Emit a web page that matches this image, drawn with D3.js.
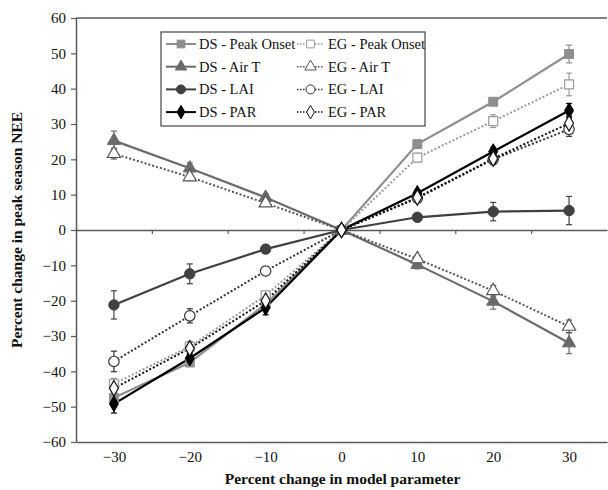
<!DOCTYPE html>
<html>
<head>
<meta charset="utf-8">
<script src="https://cdn.jsdelivr.net/npm/d3@7"></script>
<style>
    body { margin: 0; background: #fff; }
    svg text { font-family: "Liberation Serif", "Times New Roman", serif; }
</style>
</head>
<body>
<svg id="chart"></svg>
<script>
const categories = [-30, -20, -10, 0, 10, 20, 30];
const yTicks = [-60, -50, -40, -30, -20, -10, 0, 10, 20, 30, 40, 50, 60];

const dsPeakOnset = [-47.5, -37.5, -21, 0, 24.3, 36.3, 49.8];
const egPeakOnset = [-43.5, -33, -18.5, 0, 20.5, 30.8, 41.2];
const dsAirT = [25.3, 17.5, 9.2, 0, -9.8, -20.2, -32];
const egAirT = [21.6, 15, 7.6, 0, -8.2, -17.2, -27.3];
const dsLAI = [-21.2, -12.4, -5.4, 0, 3.6, 5.2, 5.5];
const egLAI = [-37.2, -24.3, -11.6, 0, 9, 20, 28.5];
const dsPAR = [-49.2, -36.3, -22, 0, 10.4, 22.2, 33.8];
const egPAR = [-44.8, -33.5, -20, 0, 9.2, 20.2, 30.2];

// error bar half widths
const dsPeakOnsetErr = [1.5, 1, 1, 0, 1, 1, 2.5];
const egPeakOnsetErr = [1.5, 1.5, 1, 0, 1.2, 1.8, 3.2];
const dsAirTErr = [2.7, 1.5, 1, 0, 1.2, 2.2, 3];
const egAirTErr = [1.5, 1, 0.8, 0, 1, 1.5, 1.8];
const dsLAIErr = [4, 2.8, 1.2, 0, 0.8, 2.6, 4];
const egLAIErr = [2.9, 2, 1.2, 0, 1, 1.5, 2];
const dsPARErr = [2.6, 1.5, 2, 0, 1, 1.2, 2];
const egPARErr = [1.5, 1.5, 1, 0, 1, 1, 2];

const series = [
    { name: "DS - Peak Onset", values: dsPeakOnset, err: dsPeakOnsetErr, color: "#8e8e8e", dotted: false, shape: "square", open: false },
    { name: "EG - Peak Onset", values: egPeakOnset, err: egPeakOnsetErr, color: "#9a9a9a", dotted: true, shape: "square", open: true },
    { name: "DS - Air T", values: dsAirT, err: dsAirTErr, color: "#6a6a6a", dotted: false, shape: "triangle", open: false },
    { name: "EG - Air T", values: egAirT, err: egAirTErr, color: "#555555", dotted: true, shape: "triangle", open: true },
    { name: "DS - LAI", values: dsLAI, err: dsLAIErr, color: "#404040", dotted: false, shape: "circle", open: false },
    { name: "EG - LAI", values: egLAI, err: egLAIErr, color: "#333333", dotted: true, shape: "circle", open: true },
    { name: "DS - PAR", values: dsPAR, err: dsPARErr, color: "#000000", dotted: false, shape: "diamond", open: false },
    { name: "EG - PAR", values: egPAR, err: egPARErr, color: "#111111", dotted: true, shape: "diamond", open: true }
];

const width = 608, height = 490;
const plot = { left: 76, right: 607, top: 18, bottom: 442 };
const axisColor = "#5a5a5a";
const serif = "Liberation Serif";

const svg = d3.select("#chart").attr("width", width).attr("height", height);

// category axis: each category gets a band, points sit in the middle
const x = d3.scaleLinear().domain([-35, 35]).range([plot.left, plot.right]);
const y = d3.scaleLinear().domain([-60, 60]).range([plot.bottom, plot.top]);

const shapes = {
    square: d3.symbolSquare,
    triangle: d3.symbolTriangle,
    circle: d3.symbolCircle,
    diamond: d3.symbolDiamond
};
const sizes = { square: 80, triangle: 75, circle: 85, diamond: 70 };
function symbolPath(s) {
    return d3.symbol().type(shapes[s.shape]).size(sizes[s.shape])();
}
const fmt = d => d < 0 ? "\u2212" + Math.abs(d) : d;

// frame: top line
svg.append("line")
    .attr("x1", plot.left).attr("x2", plot.right)
    .attr("y1", plot.top).attr("y2", plot.top)
    .attr("stroke", axisColor).attr("stroke-width", 1.5);

// y axis
const yAxis = svg.append("g")
    .attr("transform", `translate(${plot.left},0)`)
    .call(d3.axisLeft(y).tickValues(yTicks).tickSize(5).tickSizeOuter(0).tickPadding(5).tickFormat(fmt))
    .style("font-family", serif);
yAxis.select(".domain").attr("stroke", axisColor).attr("stroke-width", 1.5);
yAxis.selectAll(".tick line").attr("stroke", axisColor).attr("stroke-width", 1.2);
yAxis.selectAll("text").style("font-family", serif).attr("font-size", 15).attr("fill", "#111");

// bottom axis line carrying the category labels
const xLabels = svg.append("g")
    .attr("transform", `translate(0,${plot.bottom})`)
    .call(d3.axisBottom(x).tickValues(categories).tickSize(0).tickSizeOuter(0).tickPadding(9).tickFormat(fmt))
    .style("font-family", serif);
xLabels.select(".domain").attr("stroke", axisColor).attr("stroke-width", 1.5);
xLabels.selectAll("text").style("font-family", serif).attr("font-size", 15).attr("fill", "#111");

// category axis crossing at zero, ticks between categories
const xZero = svg.append("g")
    .attr("transform", `translate(0,${y(0)})`)
    .call(d3.axisBottom(x).tickValues([-25, -15, -5, 5, 15, 25]).tickSize(4).tickSizeOuter(0)
        .tickFormat(""));
xZero.select(".domain").attr("stroke", axisColor).attr("stroke-width", 1.5);
xZero.selectAll(".tick line").attr("stroke", axisColor).attr("stroke-width", 1.2);

// axis titles
svg.append("text")
    .attr("x", (plot.left + plot.right) / 2 + 1)
    .attr("y", 484)
    .attr("text-anchor", "middle")
    .attr("font-size", 15.5)
    .attr("font-weight", "bold")
    .attr("fill", "#111")
    .text("Percent change in model parameter");

svg.append("text")
    .attr("transform", `translate(22,${y(0)}) rotate(-90)`)
    .attr("text-anchor", "middle")
    .attr("font-size", 15.5)
    .attr("font-weight", "bold")
    .attr("fill", "#111")
    .text("Percent change in peak season NEE");

const line = d3.line()
    .x((d, i) => x(categories[i]))
    .y(d => y(d));

const container = svg.append("g");

// lines
series.forEach(s => {
    container.append("path")
        .datum(s.values)
        .attr("d", line)
        .attr("fill", "none")
        .attr("stroke", s.color)
        .attr("stroke-width", s.dotted ? 2 : 2.2)
        .attr("stroke-dasharray", s.dotted ? "2,2" : null);
});

// error bars
series.forEach(s => {
    const g = container.append("g");
    const pts = s.values.map((v, i) => ({ cx: categories[i], v, e: s.err[i] })).filter(d => d.e > 0);
    g.selectAll("line.bar")
        .data(pts)
        .enter()
        .append("line")
        .attr("class", "bar")
        .attr("x1", d => x(d.cx)).attr("x2", d => x(d.cx))
        .attr("y1", d => y(d.v - d.e)).attr("y2", d => y(d.v + d.e))
        .attr("stroke", s.color).attr("stroke-width", 1.2);
    [-1, 1].forEach(sign => {
        g.selectAll("line.cap" + sign)
            .data(pts)
            .enter()
            .append("line")
            .attr("x1", d => x(d.cx) - 3).attr("x2", d => x(d.cx) + 3)
            .attr("y1", d => y(d.v + sign * d.e)).attr("y2", d => y(d.v + sign * d.e))
            .attr("stroke", s.color).attr("stroke-width", 1.2);
    });
});

// markers
series.forEach(s => {
    container.append("g")
        .selectAll("path")
        .data(s.values)
        .enter()
        .append("path")
        .attr("transform", (d, i) => `translate(${x(categories[i])},${y(d)})`)
        .attr("d", symbolPath(s))
        .attr("fill", s.open ? "#fff" : s.color)
        .attr("stroke", s.color)
        .attr("stroke-width", s.open ? 1.2 : 1);
});

// legend
const legend = svg.append("g").attr("transform", "translate(161,32)");
legend.append("rect")
    .attr("width", 264).attr("height", 94)
    .attr("fill", "#fff")
    .attr("stroke", "#444").attr("stroke-width", 1.2);

series.forEach((s, i) => {
    const col = i % 2, row = Math.floor(i / 2);
    const lx = col === 0 ? 5 : 136;
    const ly = 12 + row * 22.7;
    const item = legend.append("g").attr("transform", `translate(${lx},${ly})`);
    item.append("line")
        .attr("x1", 0).attr("x2", col === 0 ? 30 : 27)
        .attr("stroke", s.color)
        .attr("stroke-width", s.dotted ? 1.5 : 2)
        .attr("stroke-dasharray", s.dotted ? "1.5,1.5" : null);
    item.append("path")
        .attr("transform", `translate(${col === 0 ? 15 : 13.5},0)`)
        .attr("d", d3.symbol().type(shapes[s.shape]).size(sizes[s.shape] * 0.75)())
        .attr("fill", s.open ? "#fff" : s.color)
        .attr("stroke", s.color)
        .attr("stroke-width", 1);
    item.append("text")
        .attr("x", col === 0 ? 33 : 31)
        .attr("y", 5)
        .attr("font-size", 14.5)
        .attr("fill", "#111")
        .text(s.name);
});
</script>
</body>
</html>
